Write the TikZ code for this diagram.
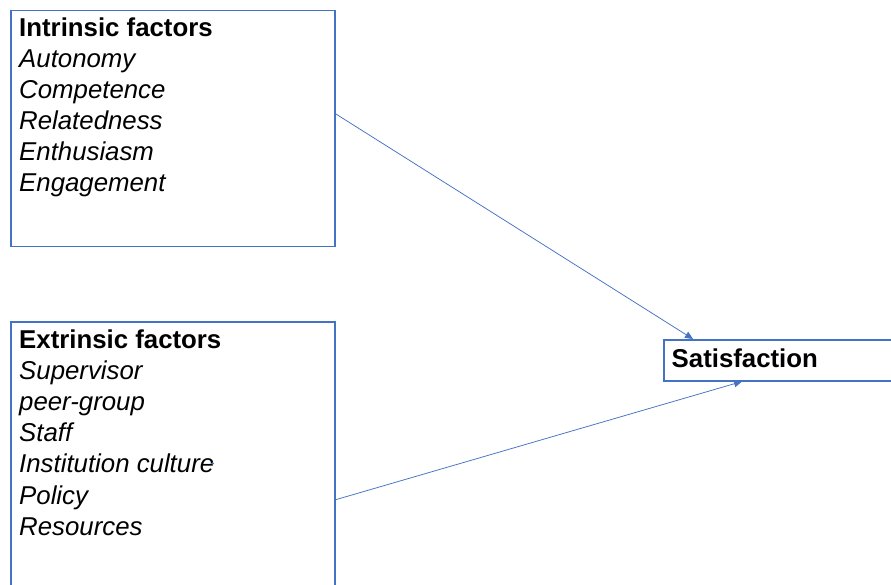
\documentclass[tikz,border=0pt]{standalone}
\usepackage{fontspec}
\setmainfont{Liberation Sans}
\usetikzlibrary{arrows.meta}
\definecolor{officeblue}{HTML}{4472C4}
\tikzset{
  box/.style={draw=officeblue, line width=1.5pt, fill=white, rectangle, inner sep=0pt, anchor=north west},
  hdr/.style={anchor=base west, inner sep=0pt, font=\fontsize{25.8}{31}\selectfont\bfseries},
  itm/.style={anchor=base west, inner sep=0pt, font=\fontsize{25.8}{31}\selectfont\itshape},
  conn/.style={draw=officeblue, line width=0.75pt, -{Triangle[length=8pt,width=7pt]}}
}
\begin{document}
\begin{tikzpicture}[x=1pt,y=-1pt]
\clip (0,0) rectangle (891,585);
\fill[white] (0,0) rectangle (891,585);
% boxes
\node[box, minimum width=324pt, minimum height=236pt] (intr) at (10,10) {};
\node[box, minimum width=324pt, minimum height=356pt] (extr) at (10,321) {};
\node[box, minimum width=250pt, minimum height=41pt] (sat) at (663,339) {};
% intrinsic texts
\node[hdr] (t1) at (19,37) {Intrinsic factors};
\node[itm] (t2) at (19,68) {Autonomy};
\node[itm] (t3) at (19,99) {Competence};
\node[itm] (t4) at (19,130) {Relatedness};
\node[itm] (t5) at (19,161) {Enthusiasm};
\node[itm] (t6) at (19,192) {Engagement};
% extrinsic texts
\node[hdr] (e1) at (19,348) {Extrinsic factors};
\node[itm] (e2) at (19,379.2) {Supervisor};
\node[itm] (e3) at (19,410.4) {peer-group};
\node[itm] (e4) at (19,441.6) {Staff};
\node[itm] (e5) at (19,472.8) {Institution culture};
\node[itm] (e6) at (19,504) {Policy};
\node[itm] (e7) at (19,535.2) {Resources};
% satisfaction
\node[hdr] (s1) at (671.5,367) {Satisfaction};
% small blue mark
\fill[officeblue] (212.5,463.5) ellipse (1.6pt and 1.2pt);
% connectors
\coordinate (a1) at ([yshift=15pt]intr.east);
\coordinate (b1) at ([xshift=30pt]sat.north west);
\coordinate (b2) at ([xshift=79pt]sat.south west);
\draw[conn] (a1) -- (b1);
\draw[conn] (extr.east) -- (b2);
\end{tikzpicture}
\end{document}
